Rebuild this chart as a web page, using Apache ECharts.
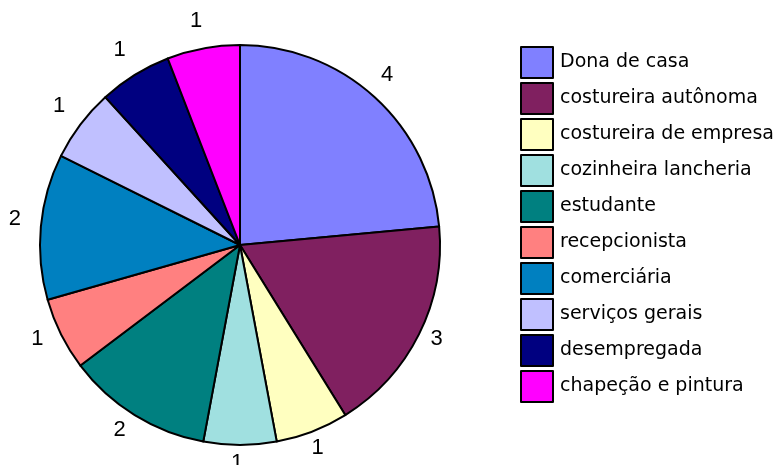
<!DOCTYPE html>
<html>
<head>
<meta charset="utf-8">
<script src="https://cdn.jsdelivr.net/npm/echarts@6/dist/echarts.min.js"></script>
<style>
  html, body { margin: 0; padding: 0; background: #ffffff; }
  #chart { width: 779px; height: 465px; }
</style>
</head>
<body>
<div id="chart"></div>
<script>
// Occupations and respondent counts
const categories = [
  'Dona de casa',
  'costureira autônoma',
  'costureira de empresa',
  'cozinheira lancheria',
  'estudante',
  'recepcionista',
  'comerciária',
  'serviços gerais',
  'desempregada',
  'chapeção e pintura'
];
const counts = [4, 3, 1, 1, 2, 1, 2, 1, 1, 1];
const palette = ['#8080FF', '#802060', '#FFFFC0', '#A0E0E0', '#008080',
                 '#FF8080', '#0080C0', '#C0C0FF', '#000080', '#FF00FF'];

const slices = categories.map((name, i) => ({
  name: name,
  value: counts[i],
  itemStyle: { color: palette[i] }
}));

const chart = echarts.init(document.getElementById('chart'), null, { renderer: 'canvas' });

chart.setOption({
  animation: false,
  backgroundColor: '#ffffff',
  legend: {
    orient: 'vertical',
    left: 520,
    top: 46,
    padding: 0,
    itemWidth: 32,
    itemHeight: 31,
    itemGap: 3,
    icon: 'rect',
    selectedMode: false,
    data: categories,
    itemStyle: { borderColor: '#000000', borderWidth: 2 },
    textStyle: {
      fontFamily: 'DejaVu Sans',
      fontSize: 19,
      color: '#000000',
      padding: [0, 0, 0, 2]
    }
  },
  series: [
    {
      // the pie itself
      type: 'pie',
      center: [240, 245],
      radius: [0, 200],
      startAngle: 90,
      clockwise: true,
      silent: true,
      label: { show: false },
      labelLine: { show: false },
      itemStyle: { borderColor: '#000000', borderWidth: 2 },
      data: slices
    },
    {
      // transparent ring carrying the value labels just outside the pie
      type: 'pie',
      center: [237, 240],
      radius: [195, 245],
      startAngle: 90,
      clockwise: true,
      silent: true,
      legendHoverLink: false,
      itemStyle: { color: 'rgba(0,0,0,0)', borderWidth: 0 },
      label: {
        show: true,
        position: 'inside',
        formatter: '{c}',
        fontFamily: 'Liberation Sans',
        fontSize: 22,
        color: '#000000'
      },
      labelLine: { show: false },
      data: categories.map((name, i) => ({ name: name, value: counts[i] }))
    }
  ]
});
</script>
</body>
</html>
